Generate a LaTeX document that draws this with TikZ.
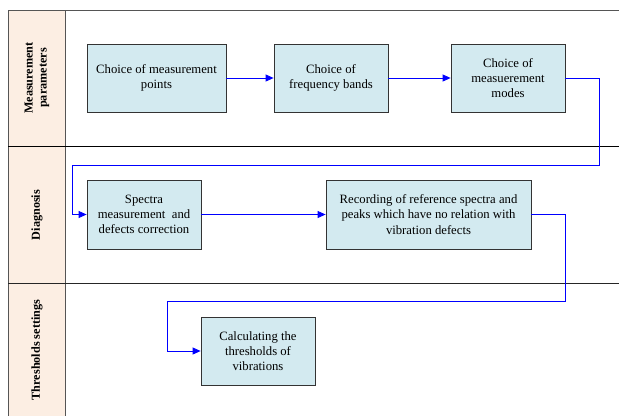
\documentclass[tikz,border=0pt]{standalone}
\usepackage{fontspec}
\setmainfont{Liberation Serif}
\usetikzlibrary{arrows.meta}
\definecolor{boxfill}{HTML}{D3EAF0}
\definecolor{lanefill}{HTML}{FCEEE3}
\definecolor{framegray}{HTML}{555555}
\tikzset{
  stepbox/.style={draw=black!80, line width=0.8pt, fill=boxfill, align=center, inner sep=0pt,
    font=\fontsize{12.7}{15.3}\selectfont},
  arr/.style={draw=blue, line width=0.8pt, -{Triangle[length=8pt,width=7pt]}},
  lanelabel/.style={rotate=90, align=center, font=\fontsize{12.2}{14}\selectfont\bfseries},
}
\begin{document}
\begin{tikzpicture}[x=1pt,y=-1pt]
\useasboundingbox (0,0) rectangle (619,416);
% lane label column
\fill[lanefill] (8,10) rectangle (65,416);
\draw[framegray, line width=0.9pt] (8,10) -- (619,10);
\draw[framegray, line width=0.9pt] (8,10) -- (8,416);
\draw[framegray, line width=0.9pt] (65,10) -- (65,416);
\draw[black, line width=0.9pt] (8,146) -- (619,146);
\draw[black!85, line width=0.9pt] (8,283) -- (619,283);
% lane labels
\node[lanelabel] (L1) at (37,78) {Measurement\\parameters};
\node[lanelabel] (L2) at (37,215) {Diagnosis};
\node[lanelabel] (L3) at (37,350) {Thresholds settings};
% boxes
\node[stepbox, minimum width=139, minimum height=68] (b1) at (156.5,78) {Choice of measurement\\points};
\node[stepbox, minimum width=114, minimum height=68] (b2) at (331,78) {Choice of\\frequency bands};
\node[stepbox, minimum width=114, minimum height=68] (b3) at (508,78) {Choice of\\measuerement\\modes};
\node[stepbox, minimum width=114, minimum height=69] (b4) at (144,214.5) {Spectra\\measurement\ \ and\\defects correction};
\node[stepbox, minimum width=205, minimum height=69] (b5) at (428.5,214.5) {Recording of reference spectra and\\peaks which have no relation with\\vibration defects};
\node[stepbox, minimum width=114, minimum height=68] (b6) at (258,351) {Calculating the\\thresholds of\\vibrations};
% connector waypoints
\coordinate (r1) at (599,165);
\coordinate (l1) at (72,165);
\coordinate (r2) at (565,301);
\coordinate (l2) at (167,301);
% connectors
\draw[arr] (b1.east) -- (b2.west);
\draw[arr] (b2.east) -- (b3.west);
\draw[arr] (b3.east) -| (r1) -- (l1) |- (b4.west);
\draw[arr] (b4.east) -- (b5.west);
\draw[arr] (b5.east) -| (r2) -- (l2) |- (b6.west);
\end{tikzpicture}
\end{document}
